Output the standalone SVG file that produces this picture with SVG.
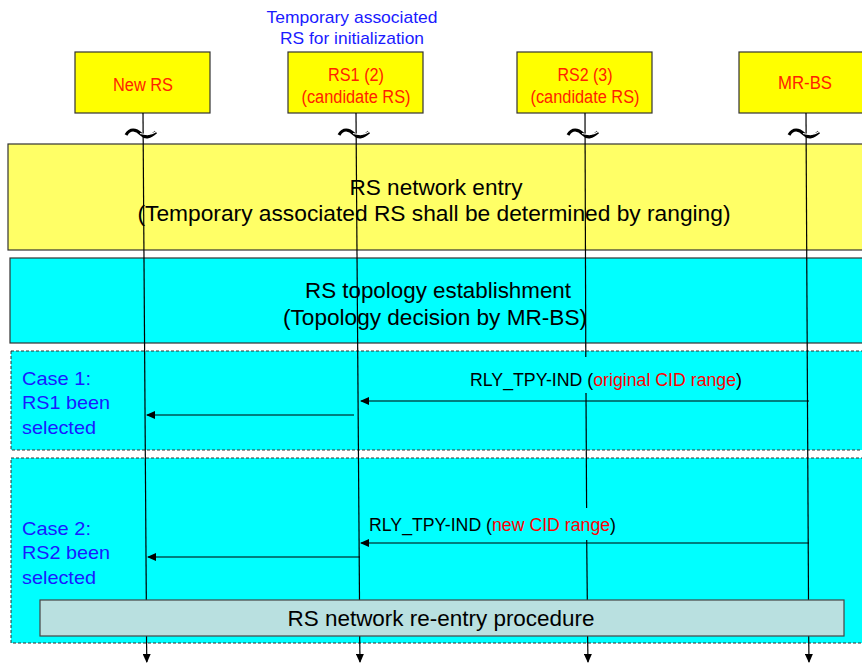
<svg xmlns="http://www.w3.org/2000/svg" width="862" height="670" viewBox="0 0 862 670">
<defs>
<style>
.t{font-family:"Liberation Sans",Arial,sans-serif}
.node{fill:#ffff00;stroke:#333;stroke-width:1.2}
.nl{fill:#ff2200;font-size:18px;text-anchor:middle}
.blue{fill:#1a1aff}
.band{font-size:22px;fill:#000;text-anchor:middle}
.case{font-size:19px;fill:#1a1aff}
.msg{font-size:17.5px;fill:#000}
.red{fill:#ff0000}
.ll{stroke:#000;stroke-width:1.2;fill:none}
.arr{stroke:#000;stroke-width:1.2;fill:none;marker-end:url(#ah)}
.dash{fill:#00ffff;stroke:#333;stroke-width:1;stroke-dasharray:3,2}
.brk1{stroke:#000;stroke-width:3.2;fill:none}
.brk2{stroke:#fff;stroke-width:1.2;fill:none}
</style>
<marker id="ah" markerWidth="9" markerHeight="8" refX="8" refY="4" orient="auto" markerUnits="userSpaceOnUse">
<path d="M0,0 L9,4 L0,8 Z" fill="#000"/>
</marker>
</defs>
<rect width="862" height="670" fill="#fff"/>

<g id="annotation">
<text class="t blue" font-size="17" text-anchor="middle" x="352" y="23" textLength="171" lengthAdjust="spacingAndGlyphs">Temporary associated</text>
<text class="t blue" font-size="17" text-anchor="middle" x="352" y="44" textLength="144" lengthAdjust="spacingAndGlyphs">RS for initialization</text>
</g>

<g id="band-entry">
<rect x="8" y="144" width="870" height="106" fill="#ffff66" stroke="#333" stroke-width="1.2"/>
<text class="t band" x="436" y="195" textLength="173" lengthAdjust="spacingAndGlyphs">RS network entry</text>
<text class="t band" x="434" y="221" textLength="593" lengthAdjust="spacingAndGlyphs">(Temporary associated RS shall be determined by ranging)</text>
</g>

<g id="band-topology">
<rect x="10" y="258" width="870" height="85" fill="#00ffff" stroke="#333" stroke-width="1.2"/>
<text class="t band" x="438" y="298" textLength="266" lengthAdjust="spacingAndGlyphs">RS topology establishment</text>
<text class="t band" x="435" y="325" textLength="304" lengthAdjust="spacingAndGlyphs">(Topology decision by MR-BS)</text>
</g>

<g id="case1">
<rect class="dash" x="11" y="351" width="870" height="99"/>
<text class="t case" x="22" y="385" textLength="69" lengthAdjust="spacingAndGlyphs">Case 1:</text>
<text class="t case" x="22" y="409" textLength="88" lengthAdjust="spacingAndGlyphs">RS1 been</text>
<text class="t case" x="22" y="434" textLength="74" lengthAdjust="spacingAndGlyphs">selected</text>
</g>

<g id="case2">
<rect class="dash" x="11" y="458" width="870" height="185"/>
<text class="t case" x="22" y="535" textLength="69" lengthAdjust="spacingAndGlyphs">Case 2:</text>
<text class="t case" x="22" y="559" textLength="88" lengthAdjust="spacingAndGlyphs">RS2 been</text>
<text class="t case" x="22" y="584" textLength="74" lengthAdjust="spacingAndGlyphs">selected</text>
</g>

<g id="node-newrs">
<rect class="node" x="75" y="52" width="135" height="61"/>
<text class="t nl" x="143" y="91" textLength="60" lengthAdjust="spacingAndGlyphs">New RS</text>
</g>
<g id="node-rs1">
<rect class="node" x="288" y="52" width="135" height="61"/>
<text class="t nl" x="356" y="81" textLength="56" lengthAdjust="spacingAndGlyphs">RS1 (2)</text>
<text class="t nl" x="356" y="103" textLength="109" lengthAdjust="spacingAndGlyphs">(candidate RS)</text>
</g>
<g id="node-rs2">
<rect class="node" x="517" y="52" width="135" height="61"/>
<text class="t nl" x="585" y="81" textLength="55" lengthAdjust="spacingAndGlyphs">RS2 (3)</text>
<text class="t nl" x="585" y="103" textLength="109" lengthAdjust="spacingAndGlyphs">(candidate RS)</text>
</g>
<g id="node-mrbs">
<rect class="node" x="739" y="52" width="135" height="61"/>
<text class="t nl" x="805" y="89" textLength="54" lengthAdjust="spacingAndGlyphs">MR-BS</text>
</g>

<g id="connectors">
<!-- lifelines -->
<line class="ll" x1="143" y1="113" x2="146.3" y2="600"/>
<line class="ll" x1="146.5" y1="636" x2="146.8" y2="662" marker-end="url(#ah)"/>
<line class="ll" x1="356" y1="113" x2="359.5" y2="600"/>
<line class="ll" x1="359.7" y1="636" x2="360" y2="662" marker-end="url(#ah)"/>
<line class="ll" x1="585" y1="113" x2="585.8" y2="357"/>
<line class="ll" x1="586" y1="393" x2="586.6" y2="508"/>
<line class="ll" x1="586.7" y1="540" x2="587.3" y2="600"/>
<line class="ll" x1="587.6" y1="636" x2="588" y2="662" marker-end="url(#ah)"/>
<line class="ll" x1="806" y1="113" x2="808.5" y2="600"/>
<line class="ll" x1="808.7" y1="636" x2="809" y2="662" marker-end="url(#ah)"/>
<!-- break marks -->
<g transform="translate(126,135)"><path class="brk1" d="M0,0 C4,-7 10,-6 15,-1 S24,2 30,-3"/><path class="brk2" d="M14,-1.5 S24,1.5 30,-3.5"/></g>
<g transform="translate(339,135)"><path class="brk1" d="M0,0 C4,-7 10,-6 15,-1 S24,2 30,-3"/><path class="brk2" d="M14,-1.5 S24,1.5 30,-3.5"/></g>
<g transform="translate(568,135)"><path class="brk1" d="M0,0 C4,-7 10,-6 15,-1 S24,2 30,-3"/><path class="brk2" d="M14,-1.5 S24,1.5 30,-3.5"/></g>
<g transform="translate(789,135)"><path class="brk1" d="M0,0 C4,-7 10,-6 15,-1 S24,2 30,-3"/><path class="brk2" d="M14,-1.5 S24,1.5 30,-3.5"/></g>
<!-- case 1 messages -->
<line class="arr" x1="809" y1="401" x2="361" y2="401"/>
<line class="arr" x1="354" y1="415" x2="147" y2="415"/>
<!-- case 2 messages -->
<line class="arr" x1="809" y1="543" x2="361" y2="543"/>
<line class="arr" x1="360" y1="557" x2="148" y2="557"/>
</g>

<g id="msg-labels">
<text class="t msg" x="470" y="386" textLength="272" lengthAdjust="spacingAndGlyphs">RLY_TPY-IND (<tspan class="red">original CID range</tspan>)</text>
<text class="t msg" x="369" y="531" textLength="247" lengthAdjust="spacingAndGlyphs">RLY_TPY-IND (<tspan class="red">new CID range</tspan>)</text>
</g>

<g id="reentry">
<rect x="40" y="600" width="804" height="36" fill="#b9e0e0" stroke="#444" stroke-width="1.2"/>
<text class="t band" x="441" y="626" textLength="307" lengthAdjust="spacingAndGlyphs">RS network re-entry procedure</text>
</g>
</svg>
